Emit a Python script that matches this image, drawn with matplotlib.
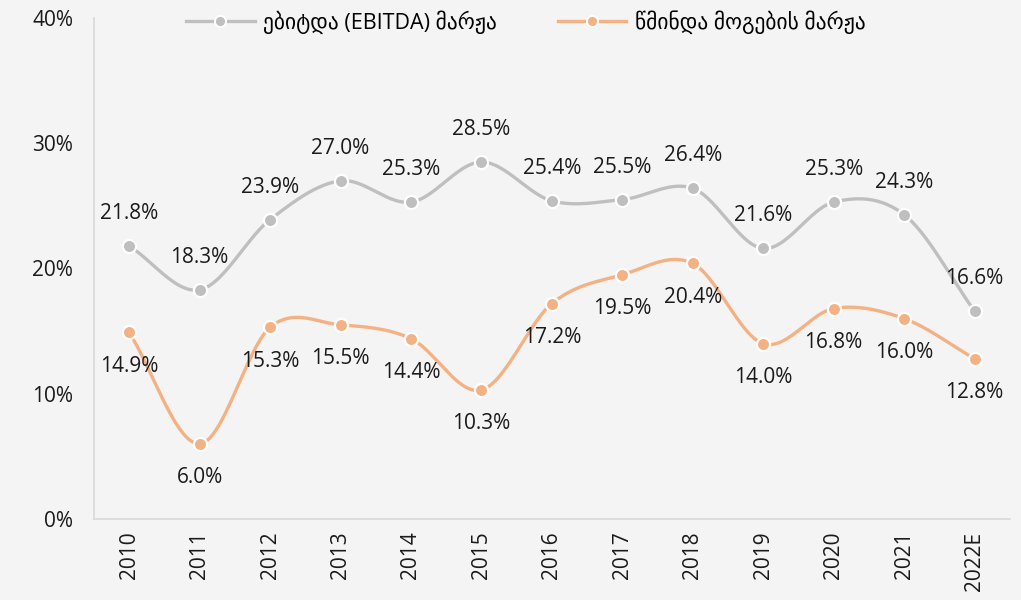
import numpy as np
from matplotlib import pyplot as plt

years   = ['2010', '2011', '2012', '2013', '2014', '2015', '2016',
           '2017', '2018', '2019', '2020', '2021', '2022E']
ebitda  = [21.8, 18.3, 23.9, 27.0, 25.3, 28.5, 25.4, 25.5, 26.4, 21.6, 25.3, 24.3, 16.6]
net     = [14.9, 6.0, 15.3, 15.5, 14.4, 10.3, 17.2, 19.5, 20.4, 14.0, 16.8, 16.0, 12.8]
lab_ebitda = 'ებიტდა (EBITDA) მარჟა'
lab_net    = 'წმინდა მოგების მარჟა'

GRAY   = '#bfbfbf'
ORANGE = '#f4b183'
BG     = '#f4f4f4'

plt.rcParams['font.family'] = ['Open Sans', 'DejaVu Sans']


def smooth(x, y, n=30):
  # catmull-rom curve through the points, like Excel's smoothed line
  x = np.asarray(x, float); y = np.asarray(y, float)
  px = np.concatenate([[2*x[0]-x[1]], x, [2*x[-1]-x[-2]]])
  py = np.concatenate([[2*y[0]-y[1]], y, [2*y[-1]-y[-2]]])
  xs, ys = [], []
  t = np.linspace(0, 1, n)
  for i in range(1, len(px)-2):
    for p, out in ((px, xs), (py, ys)):
      p0, p1, p2, p3 = p[i-1], p[i], p[i+1], p[i+2]
      out.extend(0.5*((2*p1) + (-p0+p2)*t + (2*p0-5*p1+4*p2-p3)*t**2
                      + (-p0+3*p1-3*p2+p3)*t**3))
  return xs, ys


fig = plt.figure(figsize=(10.21, 6.0), dpi=100, facecolor=BG)
ax = fig.add_axes([0.092, 0.135, 0.897, 0.835], facecolor=BG)
x = np.arange(len(years))

for vals, col, lab, off in ((ebitda, GRAY, lab_ebitda, 2.6), (net, ORANGE, lab_net, -2.7)):
  sx, sy = smooth(x, vals)
  ax.plot(sx, sy, color=col, lw=2.4, solid_capstyle='round', zorder=2)
  ax.plot(x, vals, 'o', color=col, ms=9.5, mec='white', mew=1.6, zorder=3)
  ax.plot([], [], '-o', color=col, lw=2.4, ms=8, mec='white', mew=1.4, label=lab)
  for xi, v in zip(x, vals):
    ax.text(xi, v + off, f'{v:.1f}%', ha='center', va='center',
            fontsize=15, color='#1a1a1a', zorder=4)

ax.set_xlim(-0.5, len(years) - 0.5)
ax.set_ylim(0, 40)
ax.set_yticks([0, 10, 20, 30, 40])
ax.set_yticklabels(['0%', '10%', '20%', '30%', '40%'])
ax.set_xticks(x)
ax.set_xticklabels(years, rotation=90)
ax.tick_params(axis='both', length=0, labelsize=15, colors='#1a1a1a')
ax.tick_params(axis='y', pad=15)
ax.tick_params(axis='x', pad=9)
for s in ['top', 'right']:
  ax.spines[s].set_visible(False)
for s in ['left', 'bottom']:
  ax.spines[s].set_color('#d9d9d9')
  ax.spines[s].set_linewidth(1.2)

fig.legend(loc='upper center', bbox_to_anchor=(0.515, 1.015), ncol=2, frameon=False,
           fontsize=15.5, handlelength=3.2, columnspacing=2.8, handletextpad=0.4)

fig.savefig('out.png', dpi=100, facecolor=BG)
